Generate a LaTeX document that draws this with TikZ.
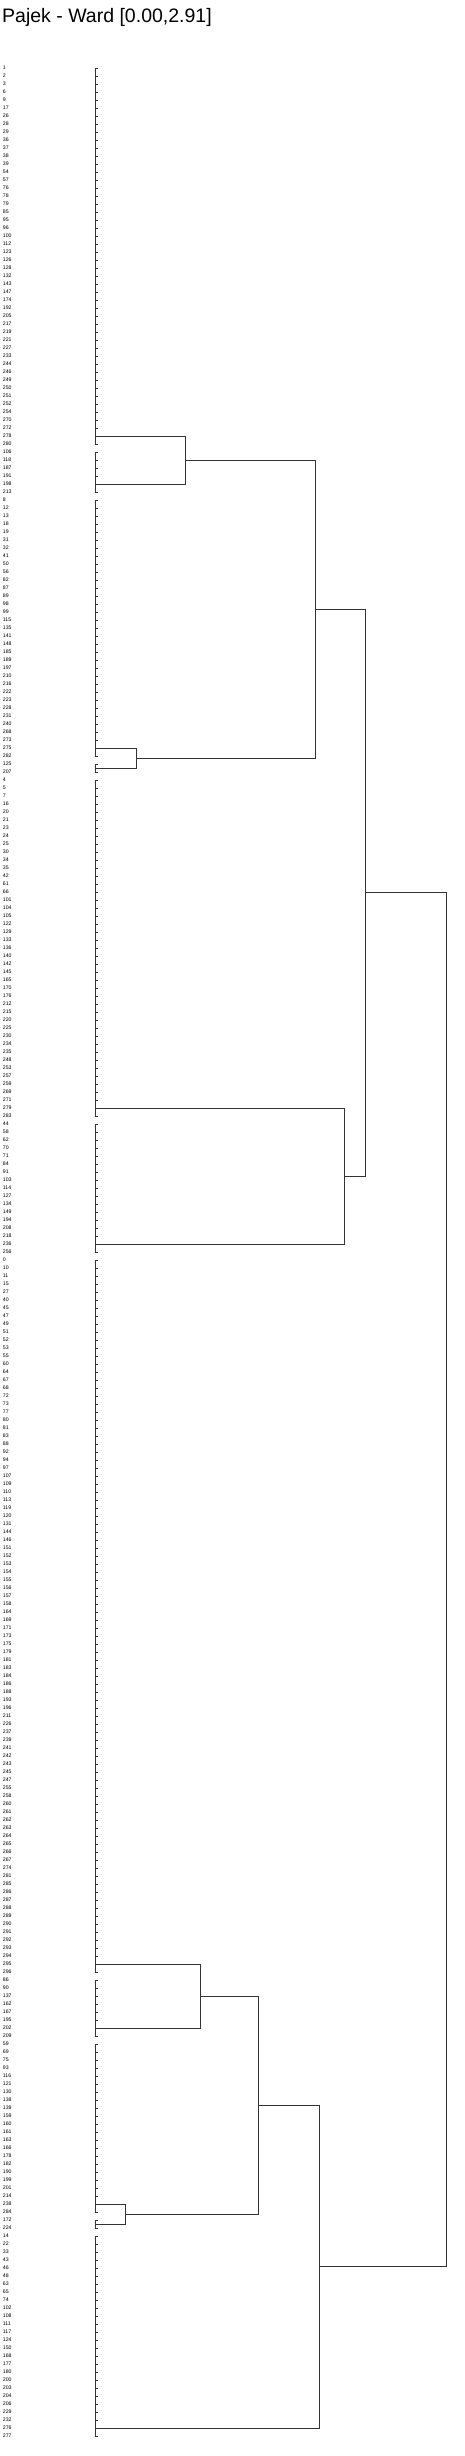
\documentclass[tikz,border=0pt]{standalone}
\usepackage{fontspec}
\setmainfont{Liberation Sans}
\tikzset{
  leaf/.style={anchor=west,inner sep=0pt,font=\fontsize{5.2}{5.5}\selectfont},
  branch/.style={draw=black!80,line width=0.7pt},
  tick/.style={draw=black!80,line width=0.5pt},
  titletext/.style={anchor=base west,inner sep=0pt,font=\fontsize{19.5}{22}\selectfont}
}
\begin{document}
\begin{tikzpicture}[x=1pt,y=-1pt]
        \useasboundingbox (0,0) rectangle (465,2456);
        % Titel
        \node[titletext] (title) at (2,23) {Pajek - Ward [0.00,2.91]};

        % Blaetter
        \foreach \lab [count=\i from 0] in {1,2,3,6,9,17,26,28,29,36,37,38,39,54,57,76,78,79,85,95,96,100,112,123,
            126,128,132,143,147,174,192,205,217,219,221,227,233,244,246,249,250,251,252,254,270,272,278,280,
            106,118,187,191,198,213,
            8,12,13,18,19,31,32,41,50,56,82,87,89,98,99,115,135,141,148,185,
            189,197,210,216,222,223,228,231,240,268,273,275,282,
            125,207,
            4,5,7,16,20,21,23,24,25,30,34,35,42,61,66,101,104,105,122,129,133,136,140,142,145,165,170,176,212,215,220,225,230,234,235,
            248,253,257,259,269,271,279,283,
            44,58,62,70,71,84,91,103,114,127,134,149,194,208,218,236,256,
            0,10,11,15,27,40,45,47,49,51,52,53,55,60,64,67,68,72,73,77,80,81,83,88,92,
            94,97,107,109,110,113,119,120,131,144,146,151,152,153,154,155,156,157,158,164,169,171,173,175,179,
            181,183,184,186,188,193,196,211,226,237,239,241,242,243,245,247,255,258,260,261,262,263,264,265,266,
            267,274,281,285,286,287,288,289,290,291,292,293,294,295,296,
            86,90,137,162,167,195,202,209,
            59,69,75,93,116,121,130,138,139,159,160,161,163,166,178,182,190,199,201,214,238,284,
            172,224,
            14,22,33,43,46,48,63,65,74,102,108,111,117,124,150,168,177,180,200,203,204,206,229,232,276,277}
        {
          \node[leaf] (l\i) at (2.7,{68+8*\i}) {\lab};
          \coordinate (p\i) at (95,{68+8*\i});
          \draw[tick] (p\i) -- ++(2.5,0);
        }

        % Gruppen auf Hoehe 0
        \draw[branch] (p0) -- (p47);
        \draw[branch] (p48) -- (p53);
        \draw[branch] (p54) -- (p86);
        \draw[branch] (p87) -- (p88);
        \draw[branch] (p89) -- (p131);
        \draw[branch] (p132) -- (p148);
        \draw[branch] (p149) -- (p238);
        \draw[branch] (p239) -- (p246);
        \draw[branch] (p247) -- (p268);
        \draw[branch] (p269) -- (p270);
        \draw[branch] (p271) -- (p296);

        % Anschlusspunkte der Gruppen
        \coordinate (sA) at (95,436);
        \coordinate (sB) at (95,484.25);
        \coordinate (sC) at (95,748);
        \coordinate (sD) at (95,768);
        \coordinate (sE) at (95,1108);
        \coordinate (sF) at (95,1244);
        \coordinate (sG) at (95,1964);
        \coordinate (sH) at (95,2028);
        \coordinate (sI) at (95,2204);
        \coordinate (sJ) at (95,2224);
        \coordinate (sK) at (95,2428);

        % Verschmelzungen
        \coordinate (mAB) at (185,460.1);
        \coordinate (mCD) at (136,758);
        \coordinate (mAD) at (315,609.1);
        \coordinate (mEF) at (344.5,1176);
        \coordinate (mAF) at (365,892.5);
        \coordinate (mGH) at (200,1996);
        \coordinate (mIJ) at (125,2214);
        \coordinate (mGJ) at (258,2105);
        \coordinate (mGK) at (319.5,2266.5);
        \coordinate (root) at (446,1579.5);

        \draw[branch] (sA) -- (sA -| mAB) -- (sB -| mAB) -- (sB);
        \draw[branch] (sC) -- (sC -| mCD) -- (sD -| mCD) -- (sD);
        \draw[branch] (mAB) -- (mAB -| mAD) -- (mCD -| mAD) -- (mCD);
        \draw[branch] (sE) -- (sE -| mEF) -- (sF -| mEF) -- (sF);
        \draw[branch] (mAD) -- (mAD -| mAF) -- (mEF -| mAF) -- (mEF);
        \draw[branch] (sG) -- (sG -| mGH) -- (sH -| mGH) -- (sH);
        \draw[branch] (sI) -- (sI -| mIJ) -- (sJ -| mIJ) -- (sJ);
        \draw[branch] (mGH) -- (mGH -| mGJ) -- (mIJ -| mGJ) -- (mIJ);
        \draw[branch] (mGJ) -- (mGJ -| mGK) -- (sK -| mGK) -- (sK);
        \draw[branch] (mAF) -- (mAF -| root) -- (mGK -| root) -- (mGK);
\end{tikzpicture}
\end{document}
